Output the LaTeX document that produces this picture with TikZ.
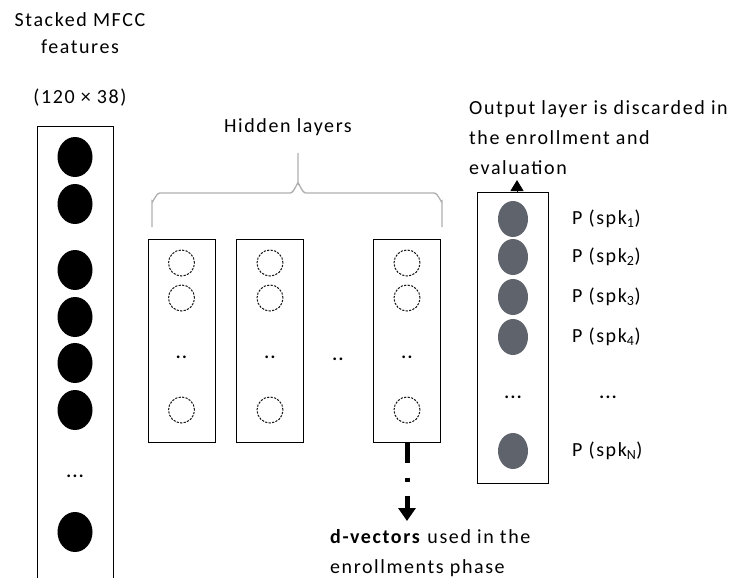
\documentclass[tikz,border=0pt]{standalone}
\usepackage{fontspec}
\setmainfont{Carlito}[LetterSpace=8]
\usetikzlibrary{arrows.meta,positioning,shapes.geometric}
\definecolor{unitgray}{RGB}{95,99,107}
\definecolor{bracegray}{RGB}{175,175,175}
\begin{document}
\begin{tikzpicture}[x=1pt,y=-1pt,font=\fontsize{20}{30}\selectfont,
	layerbox/.style={draw,line width=1pt,inner sep=0pt},
	inunit/.style={ellipse,fill=black,minimum width=35pt,minimum height=40pt,inner sep=0pt},
	hidunit/.style={circle,draw=black!90,line width=1pt,dash pattern=on 2.2pt off 1.3pt,minimum size=26pt,inner sep=0pt},
	outunit/.style={ellipse,fill=unitgray,minimum width=30pt,minimum height=36pt,inner sep=0pt},
	dotsnode/.style={inner sep=0pt,font=\fontsize{18}{20}\selectfont\bfseries}]
		\useasboundingbox (0,0) rectangle (732,578);
		
		% input layer
		\node[layerbox,minimum width=76pt,minimum height=480pt] (inbox) at (75,367) {};
		\foreach \y [count=\i] in {157,204,270,317,363,410,532}{
			\node[inunit] (in\i) at (75,\y) {}; }
		\node[dotsnode] (indots) at (75,476) {...};
		\node[align=center] (intitle) at (80,33) {Stacked MFCC\\[-3pt]features};
		\node (insize) at (80,98) {(120 × 38)};
		
		% hidden layers
		\foreach \x [count=\i] in {181.5,270,407}{
			\node[layerbox,minimum width=67pt,minimum height=203pt] (hid\i) at (\x,340.5) {};
			\foreach \y [count=\j] in {263,298,410}{
				\node[hidunit] (hid\i u\j) at (\x,\y) {}; }
			\node[dotsnode] (hid\i dots) at (\x,357) {..}; }
		\node[dotsnode] (hiddots) at (338,359) {..};
		\node (hidtitle) at (288,127) {Hidden layers};
		\draw[bracegray,line width=1.3pt] (152,227) -- (152,201) to[out=-90,in=180] (160,193) -- (290,193)
			to[out=0,in=90] (298,184) -- (298,153) (298,184) to[out=90,in=180] (306,193) -- (434,193)
			to[out=0,in=-90] (442,201) -- (442,227);
		
		% output layer
		\node[layerbox,minimum width=71pt,minimum height=291pt] (outbox) at (512.5,337.5) {};
		\foreach \y/\s [count=\i] in {219/1,257/2,297/3,337/4,451/N}{
			\node[outunit] (out\i) at (513,\y) {};
			\node[anchor=west,inner sep=0pt] (prob\i) at (572,\y) {P (spk\textsubscript{\s})}; }
		\node[dotsnode] (outdots) at (513,397) {...};
		\node[dotsnode] (probdots) at (608,397) {...};
		\node[align=left,anchor=north west,inner sep=0pt] (outnote) at (469,100)
			{Output layer is discarded in\\the enrollment and\\evaluation};
		\coordinate (outtip) at (517,180);
		\draw[line width=1pt,-{Triangle[length=11pt,width=13pt]}] ([xshift=4.5pt]outbox.north) -- (outtip);
		
		% d-vectors
		\coordinate (dvtip) at (hid3.south |- 0,521);
		\draw[line width=5pt,dash pattern=on 20pt off 15pt on 4pt off 14pt on 40pt,
			-{Triangle[length=13pt,width=17pt]}] (hid3.south) -- (dvtip);
		\node[align=left,anchor=north west,inner sep=0pt] (dvnote) at (330,529)
			{\textbf{d-vectors} used in the\\enrollments phase};
		
	\end{tikzpicture}
\end{document}
